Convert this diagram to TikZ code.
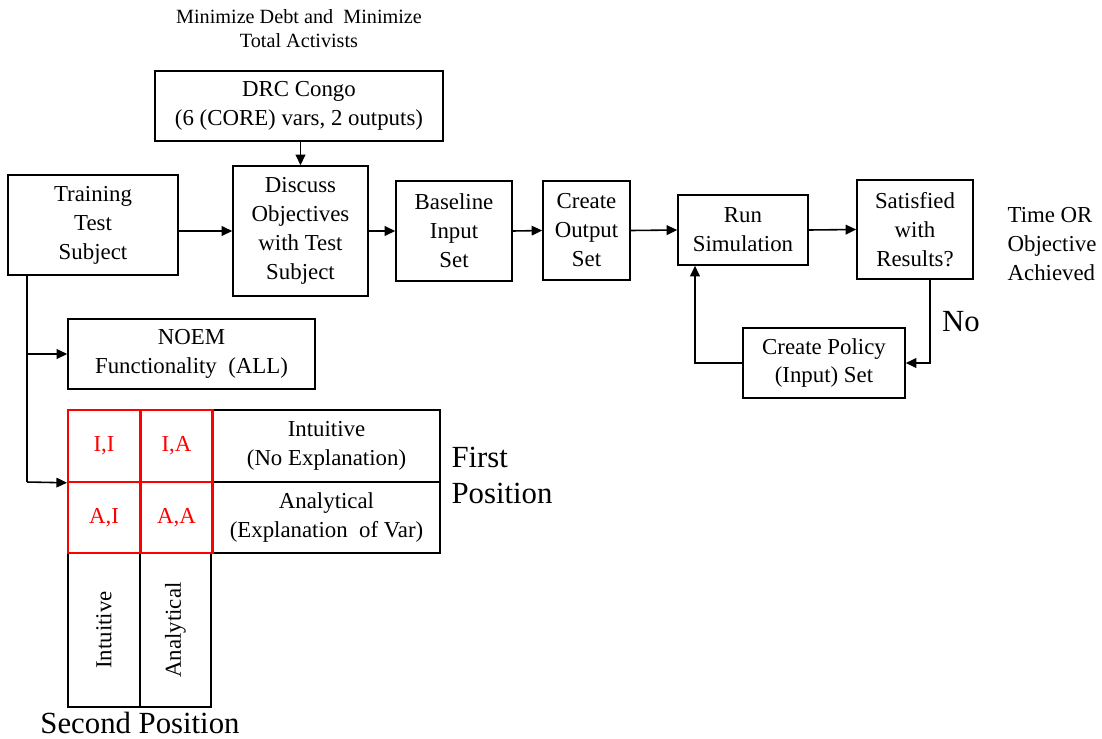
\documentclass[tikz,border=0pt]{standalone}
\usepackage{fontspec}
\setmainfont{Liberation Serif}
\usetikzlibrary{arrows.meta,positioning}

\begin{document}
\begin{tikzpicture}[x=0.02cm, y=-0.02cm, font=\fontsize{13}{16.5}\selectfont,
        box/.style={draw, line width=0.9pt, align=center, inner sep=1pt},
        cell/.style={draw=red, line width=1.2pt, text=red, minimum width=1.44cm, minimum height=1.43cm},
        big/.style={font=\fontsize{17.5}{20.5}\selectfont},
        arr/.style={-{Triangle[length=6pt,width=5.5pt]}, line width=0.9pt}]
        \useasboundingbox (0,0) rectangle (1102,738);

        % Objective text and model
        \node[align=center, font=\fontsize{11.5}{13.7}\selectfont] (goal) at (299,29) {Minimize Debt and\ \ Minimize\\Total Activists};
        \node[box, minimum width=5.76cm, minimum height=1.4cm] (drc) at (299,106) {DRC Congo\\(6 (CORE) vars, 2 outputs)};

        % Main process
        \node[box, minimum width=3.4cm, minimum height=2cm] (train) at (93,225) {Training\\Test\\Subject};
        \node[box, minimum width=2.7cm, minimum height=2.6cm] (disc) at (300.5,231) {Discuss\\Objectives\\with Test\\Subject};
        \node[box, minimum width=2.32cm, minimum height=2cm] (base) at (454,231) {Baseline\\Input\\Set};
        \node[box, minimum width=1.74cm, minimum height=1.98cm] (outp) at (586.5,230.5) {Create\\Output\\Set};
        \node[box, minimum width=2.6cm, minimum height=1.4cm] (run) at (743,230) {Run\\Simulation};
        \node[box, minimum width=2.32cm, minimum height=1.98cm] (sat) at (915,229.5) {Satisfied\\with\\Results?};
        \node[box, minimum width=3.24cm, minimum height=1.4cm] (policy) at (824,363) {Create Policy\\(Input) Set};
        \node[align=left] (done) at (1052,244) {Time OR\\Objective\\Achieved};
        \node[big] (no) at (961,322) {No};

        % NOEM and conditions
        \node[box, minimum width=4.94cm, minimum height=1.4cm] (noem) at (191.5,354) {NOEM\\Functionality\ \ (ALL)};
        \node[box, minimum width=4.54cm, minimum height=1.43cm] (fint) at (326.5,446) {Intuitive\\(No Explanation)};
        \node[box, minimum width=4.54cm, minimum height=1.43cm] (fana) at (326.5,517.5) {Analytical\\(Explanation\ \ of Var)};
        \node[box, rotate=90, minimum width=3.08cm, minimum height=1.44cm] (sint) at (104,630) {Intuitive};
        \node[box, rotate=90, minimum width=3.08cm, minimum height=1.42cm] (sana) at (175.5,630) {Analytical};
        \node[cell] (ii) at (104,446) {I,I};
        \node[cell] (ia) at (176.5,446) {I,A};
        \node[cell] (ai) at (104,517.5) {A,I};
        \node[cell] (aa) at (176.5,517.5) {A,A};
        \node[big, align=left] (first) at (502,475) {First\\Position};
        \node[big] (second) at (140,723) {Second Position};

        % Connections
        \draw[arr] (drc.south -| disc.north) -- (disc.north);
        \draw[arr] (train.east |- disc.west) -- (disc.west);
        \draw[arr] (disc.east) -- (base.west);
        \draw[arr] (base.east) -- (outp.west);
        \draw[arr] (outp.east) -- (run.west);
        \draw[arr] (run.east) -- (sat.west);
        \coordinate (nobend) at (930,363);
        \draw[arr] (nobend |- sat.south) -- (nobend) -- (policy.east);
        \coordinate (loopbend) at (695,363);
        \draw[arr] (policy.west) -- (loopbend) -- (loopbend |- run.south);
        \coordinate (trunk) at (27,482);
        \draw[line width=0.9pt] (trunk |- train.south) -- (trunk);
        \draw[arr] (trunk |- noem.west) -- (noem.west);
        \draw[arr] (trunk) -- (ii.south west);
\end{tikzpicture}
\end{document}
